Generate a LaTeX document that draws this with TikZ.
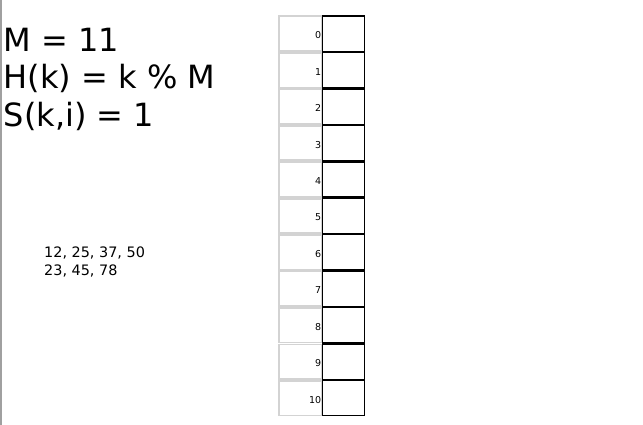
\documentclass[tikz,border=0pt]{standalone}
\usepackage{fontspec}
\setmainfont{DejaVu Sans}
\usepackage{tikz}
\usetikzlibrary{shapes,positioning}
\definecolor{idxgray}{RGB}{211,211,211}
\definecolor{framegray}{RGB}{160,160,160}
\tikzset{
slot/.style = {draw=black, line width=1.3pt, fill=none, rectangle, minimum width=42pt, minimum height=35.2pt, inner sep=0pt},
idx/.style = {draw=idxgray, line width=1.8pt, rectangle, minimum width=43pt, minimum height=34.6pt, inner sep=0.6pt, text width=41.5pt, align=right, text height=10pt, text depth=0pt, font=\fontsize{9.5}{10}\selectfont},
bigtext/.style = {anchor=base west, inner sep=0pt, font=\fontsize{32}{38}\selectfont},
keys/.style = {anchor=base west, inner sep=0pt, font=\fontsize{14.4}{18}\selectfont}
}
\begin{document}
\begin{tikzpicture}[x=1pt, y=1pt, node distance=36.45pt]
    \useasboundingbox (0,0) rectangle (643,425);
    \draw[framegray, line width=1.2pt] (1,0) -- (1,425);
    % formulas
    \node[bigtext] (m) at (3.5,373) {M = 11};
    \node[bigtext] (h) at (3.5,336) {H(k) = k \% M};
    \node[bigtext] (s) at (3.5,298.5) {S(k,i) = 1};
    % keys to insert
    \node[keys] (k1) at (44,167) {12, 25, 37, 50};
    \node[keys] (k2) at (44,149) {23, 45, 78};
    % index column
    \node[idx] (i0) at (300.5,391.3) {0};
    \node[idx, below of = i0] (i1) {1};
    \node[idx, below of = i1] (i2) {2};
    \node[idx, below of = i2] (i3) {3};
    \node[idx, below of = i3] (i4) {4};
    \node[idx, below of = i4] (i5) {5};
    \node[idx, below of = i5] (i6) {6};
    \node[idx, below of = i6] (i7) {7};
    \node[idx, below of = i7] (i8) {8};
    \node[idx, below of = i8] (i9) {9};
    \node[idx, below of = i9] (i10) {10};
    % slots
    \node[slot] (s0) at (343.5,391.3) {};
    \node[slot, below of = s0] (s1) {};
    \node[slot, below of = s1] (s2) {};
    \node[slot, below of = s2] (s3) {};
    \node[slot, below of = s3] (s4) {};
    \node[slot, below of = s4] (s5) {};
    \node[slot, below of = s5] (s6) {};
    \node[slot, below of = s6] (s7) {};
    \node[slot, below of = s7] (s8) {};
    \node[slot, below of = s8] (s9) {};
    \node[slot, below of = s9] (s10) {};
\end{tikzpicture}
\end{document}
